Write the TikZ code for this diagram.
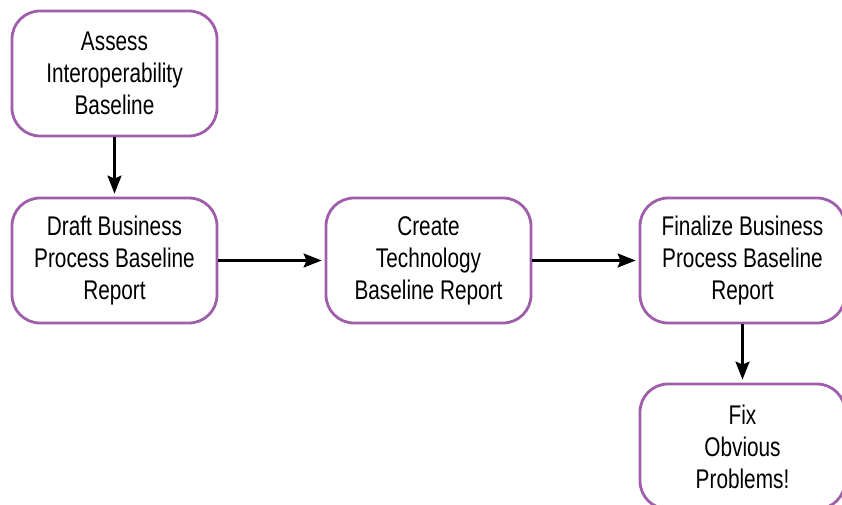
\documentclass[tikz,border=0pt]{standalone}
\usepackage{fontspec}
\setmainfont{Liberation Sans}[FakeStretch=0.77]
\usetikzlibrary{arrows.meta}
\definecolor{boxpurple}{RGB}{158,94,170}
\begin{document}
\begin{tikzpicture}[x=1pt,y=-1pt,
  stepbox/.style={draw=boxpurple, line width=2.8pt, rounded corners=28pt,
    minimum width=205pt, minimum height=125pt, align=center, inner sep=0pt,
    font=\fontsize{27}{32}\selectfont},
  flow/.style={line width=2.6pt, -{Stealth[length=18pt,width=14pt,inset=3pt]}, shorten >=3pt}]
\useasboundingbox (0,0) rectangle (842,505);
\clip (0,0) rectangle (842,505);
\node[stepbox] (a) at (114.5,73.5) {Assess\\Interoperability\\Baseline};
\node[stepbox] (b) at (114.5,260.5) {Draft Business\\Process Baseline\\Report};
\node[stepbox] (c) at (428.5,260.5) {Create\\Technology\\Baseline Report};
\node[stepbox] (d) at (742.5,260.5) {Finalize Business\\Process Baseline\\Report};
\node[stepbox] (e) at (742.5,446.5) {Fix\\Obvious\\Problems!};
\draw[flow] (a) -- (b);
\draw[flow] (b) -- (c);
\draw[flow] (c) -- (d);
\draw[flow] (d) -- (e);
\end{tikzpicture}
\end{document}
